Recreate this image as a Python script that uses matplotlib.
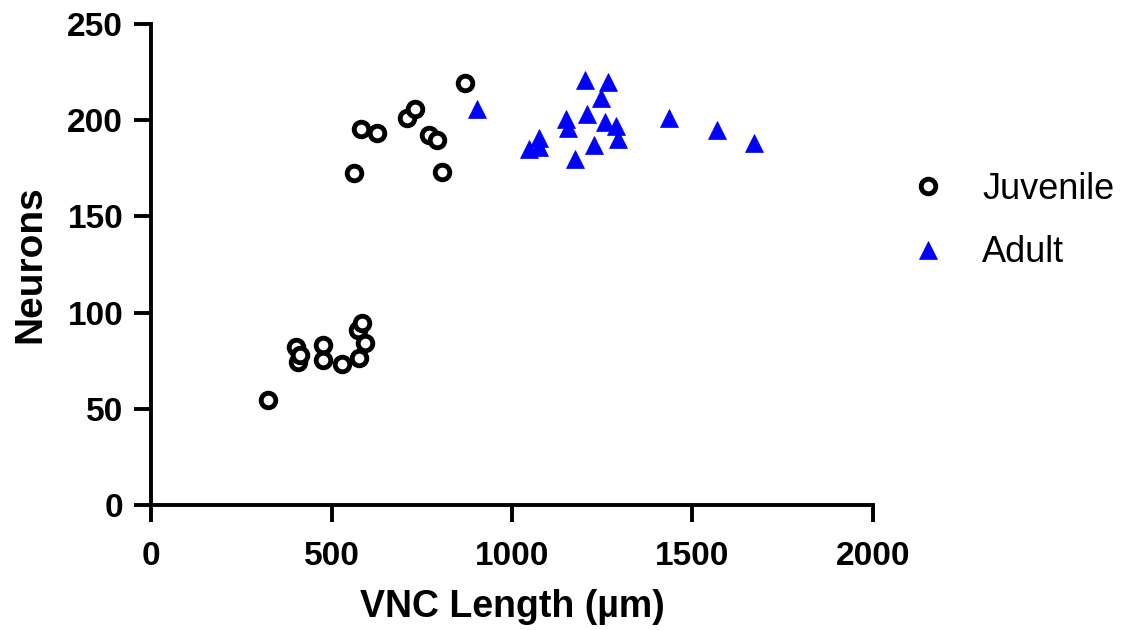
import matplotlib
matplotlib.use("Agg")
import matplotlib.pyplot as plt

plt.rcParams['font.family'] = ['Liberation Sans', 'DejaVu Sans']

juv_x = [324, 402, 407, 413, 476, 476, 529, 576, 593, 573, 584,
         562, 806, 582, 626, 709, 731, 770, 792, 870]
juv_y = [54.6, 82, 74.3, 78, 83, 75.4, 73.3, 76.4, 84, 91, 94.6,
         172.6, 173, 195.4, 193.3, 201, 206, 192.3, 189.7, 219.3]

adu_x = [903, 1048, 1075, 1075, 1150, 1155, 1175, 1202, 1208, 1228,
         1246, 1258, 1266, 1288, 1294, 1435, 1568, 1670]
adu_y = [206, 185, 186, 191, 200.6, 196, 180, 221, 203, 187,
         211.5, 199, 220, 197, 190, 201, 195, 188]

x_ticks = [0, 500, 1000, 1500, 2000]
y_ticks = [0, 50, 100, 150, 200, 250]

fig = plt.figure(figsize=(11.3, 6.3), dpi=100)
ax = fig.add_axes([151/1130, 1 - 505/630, (873 - 151)/1130, (505 - 24)/630])

ax.plot(juv_x, juv_y, linestyle='none', marker='o', ms=10.5, mfc='white',
        mec='black', mew=3.5, label='Juvenile', clip_on=False, zorder=3)
ax.plot(adu_x, adu_y, linestyle='none', marker='^', ms=13.5, mfc='blue',
        mec='blue', mew=0.5, label='Adult', clip_on=False, zorder=3)

ax.set_xlim(0, 2000)
ax.set_ylim(0, 250)
ax.set_xticks(x_ticks)
ax.set_yticks(y_ticks)
for s in ['top', 'right']:
    ax.spines[s].set_visible(False)
for s in ['left', 'bottom']:
    ax.spines[s].set_linewidth(2.8)
ax.tick_params(axis='both', width=2.8, length=12, labelsize=24)
ax.tick_params(axis='y', pad=8)
ax.tick_params(axis='x', pad=14)
for lab in ax.get_xticklabels() + ax.get_yticklabels():
    lab.set_fontweight('bold')

ax.set_xlabel('VNC Length (µm)', fontsize=27, fontweight='bold', labelpad=12)
ax.set_ylabel('Neurons', fontsize=28, fontweight='bold', labelpad=14)

leg = ax.legend(loc='center left', bbox_to_anchor=(910/1130, 1 - 221/630),
                bbox_transform=fig.transFigure, frameon=False, fontsize=26,
                markerscale=1.0, handletextpad=1.0, labelspacing=0.8,
                handlelength=1.0, borderaxespad=0, borderpad=0)

fig.savefig('out.png', dpi=100)
